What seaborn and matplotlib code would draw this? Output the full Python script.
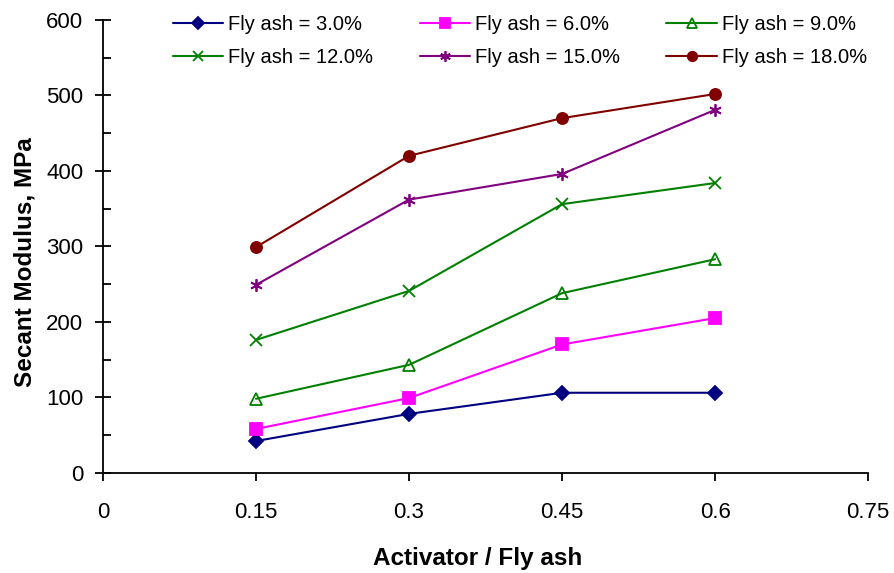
import pandas as pd
import seaborn as sns
import matplotlib.pyplot as plt

# Values
ratio = [0.15, 0.30, 0.45, 0.60]
labels = ['Fly ash = 3.0%', 'Fly ash = 6.0%', 'Fly ash = 9.0%',
          'Fly ash = 12.0%', 'Fly ash = 15.0%', 'Fly ash = 18.0%']
fa_3 = [42, 78, 106, 106]
fa_6 = [58, 99, 170, 205]
fa_9 = [98, 143, 238, 283]
fa_12 = [176, 241, 356, 384]
fa_15 = [249, 362, 396, 481]
fa_18 = [299, 420, 470, 502]

series = [fa_3, fa_6, fa_9, fa_12, fa_15, fa_18]
colors = ['#000080', '#FF00FF', '#008000', '#008000', '#800080', '#800000']
markers = ['D', 's', '^', 'x', (6, 2, 0), 'o']
msizes = [7, 8, 8, 8, 9, 8]

df = pd.concat([pd.DataFrame({'ratio': ratio, 'modulus': s, 'mix': lab})
                for s, lab in zip(series, labels)], ignore_index=True)

sns.set_style('white')
plt.rcParams['font.family'] = ['Liberation Sans', 'DejaVu Sans']
plt.rcParams['text.color'] = 'black'
plt.rcParams['axes.labelcolor'] = 'black'
plt.rcParams['xtick.color'] = 'black'
plt.rcParams['ytick.color'] = 'black'

fig = plt.figure(figsize=(8.95, 5.73), dpi=100)
ax = fig.add_axes([0.115, 0.175, 0.855, 0.79])

for lab, c, m, ms in zip(labels, colors, markers, msizes):
    sub = df[df['mix'] == lab]
    face = 'none' if m == '^' else c
    sns.lineplot(data=sub, x='ratio', y='modulus', ax=ax, color=c, marker=m,
                 markersize=ms, markerfacecolor=face, markeredgecolor=c,
                 markeredgewidth=1.3, linewidth=1.5, label=lab)

ax.set_xlim(0, 0.75)
ax.set_ylim(0, 600)
ax.set_xticks([0, 0.15, 0.3, 0.45, 0.6, 0.75])
ax.set_xticklabels(['0', '0.15', '0.3', '0.45', '0.6', '0.75'])
ax.set_yticks(range(0, 601, 100))
ax.set_yticks(range(50, 600, 100), minor=True)
ax.tick_params(axis='y', which='major', direction='inout', length=12, width=1.3,
               labelsize=16, pad=8, left=True)
ax.tick_params(axis='y', which='minor', direction='in', length=6, width=1.3, left=True)
ax.tick_params(axis='x', which='major', direction='out', length=6, width=1.3,
               labelsize=16, pad=15, bottom=True)
for side in ['top', 'right']:
    ax.spines[side].set_visible(False)
for side in ['left', 'bottom']:
    ax.spines[side].set_color('black')
    ax.spines[side].set_linewidth(1.3)

ax.set_xlabel('Activator / Fly ash', fontsize=17.5, fontweight='bold', labelpad=17)
ax.set_ylabel('Secant Modulus, MPa', fontsize=17.5, fontweight='bold', labelpad=7)
ax.xaxis.label.set_x(0.49)
ax.yaxis.label.set_y(0.466)

# legend filled row by row like the original
h, l = ax.get_legend_handles_labels()
order = [0, 3, 1, 4, 2, 5]
ax.legend([h[i] for i in order], [l[i] for i in order], ncol=3,
          loc='upper left', bbox_to_anchor=(173 / 895, 1 - 15 / 573),
          bbox_transform=fig.transFigure, frameon=False, fontsize=14.5,
          handlelength=2.5, columnspacing=2.3, handletextpad=0.25,
          labelspacing=0.7, borderpad=0, borderaxespad=0, markerscale=0.85)

plt.savefig('out.png', dpi=100)
